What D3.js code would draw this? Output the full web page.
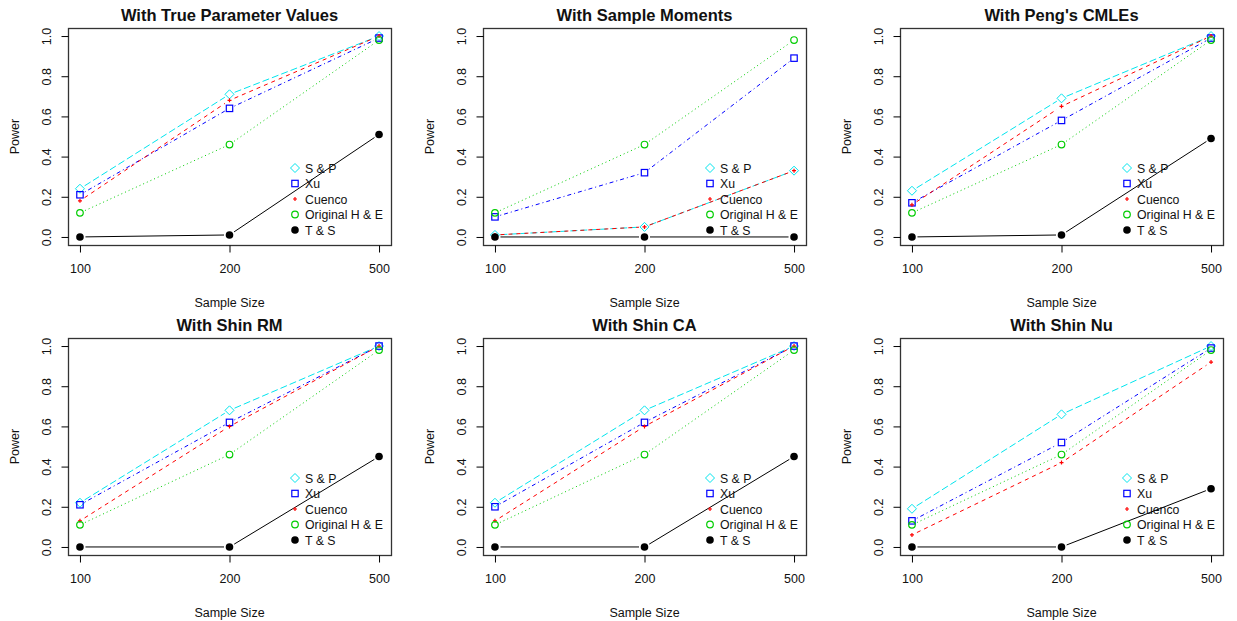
<!DOCTYPE html>
<html>
<head>
<meta charset="utf-8">
<script src="https://cdn.jsdelivr.net/npm/d3@7"></script>
<style>
  body { margin: 0; background: #fff; }
  text { font-family: "Liberation Sans", Arial, sans-serif; fill: #111; }
</style>
</head>
<body>
<div id="chart"></div>
<script>
const width = 1237, height = 621;

// sample sizes (categorical, equally spaced like R's 1:3 with custom labels)
var sampleSizes = ["100", "200", "500"];
var yTicks = [0, 0.2, 0.4, 0.6, 0.8, 1.0];

var seriesNames = ["S & P", "Xu", "Cuenco", "Original H & E", "T & S"];

var panelTitles = [
    "With True Parameter Values", "With Sample Moments", "With Peng's CMLEs",
    "With Shin RM", "With Shin CA", "With Shin Nu"
];

// power values, one array per series, one row per panel
var sp = [
    [0.24, 0.71, 1.00],
    [0.01, 0.05, 0.33],
    [0.23, 0.69, 1.00],
    [0.22, 0.68, 1.00],
    [0.22, 0.68, 1.00],
    [0.19, 0.66, 1.00]
];
var xu = [
    [0.21, 0.64, 0.99],
    [0.10, 0.32, 0.89],
    [0.17, 0.58, 0.99],
    [0.21, 0.62, 1.00],
    [0.20, 0.62, 1.00],
    [0.13, 0.52, 0.99]
];
var cuenco = [
    [0.18, 0.68, 1.00],
    [0.01, 0.05, 0.33],
    [0.16, 0.65, 1.00],
    [0.13, 0.60, 1.00],
    [0.13, 0.60, 1.00],
    [0.06, 0.42, 0.92]
];
var original = [
    [0.12, 0.46, 0.98],
    [0.12, 0.46, 0.98],
    [0.12, 0.46, 0.98],
    [0.11, 0.46, 0.98],
    [0.11, 0.46, 0.98],
    [0.11, 0.46, 0.98]
];
var ts = [
    [0.00, 0.01, 0.51],
    [0.00, 0.00, 0.00],
    [0.00, 0.01, 0.49],
    [0.00, 0.00, 0.45],
    [0.00, 0.00, 0.45],
    [0.00, 0.00, 0.29]
];

var seriesData = [sp, xu, cuenco, original, ts];
var colors = ["#00e5ee", "#0000ff", "#ff0000", "#00cd00", "#000000"];
var dashes = ["7,3", "1,3,4,3", "4,4", "1,3", null];
var symbols = ["diamond", "square", "plus", "circle", "dot"];

var boxLefts = [68, 483, 900], boxTops = [28, 338];
var boxW = 323, boxH = 217;

var svg = d3.select("#chart").append("svg")
    .attr("width", width)
    .attr("height", height);

function drawSymbol(g, type, x, y, color) {
    if (type == "diamond") {
        g.append("path")
            .attr("d", "M" + x + "," + (y - 4.5) + "L" + (x + 4.5) + "," + y + "L" + x + "," + (y + 4.5) + "L" + (x - 4.5) + "," + y + "Z")
            .attr("fill", "none").attr("stroke", color).attr("stroke-width", 1);
    } else if (type == "square") {
        g.append("rect")
            .attr("x", x - 3.2).attr("y", y - 3.2).attr("width", 6.4).attr("height", 6.4)
            .attr("fill", "none").attr("stroke", color).attr("stroke-width", 1.2);
    } else if (type == "plus") {
        g.append("path")
            .attr("d", "M" + (x - 2) + "," + y + "H" + (x + 2) + "M" + x + "," + (y - 2) + "V" + (y + 2))
            .attr("stroke", color).attr("stroke-width", 1.2);
    } else if (type == "circle") {
        g.append("circle").attr("cx", x).attr("cy", y).attr("r", 3.3)
            .attr("fill", "none").attr("stroke", color).attr("stroke-width", 1.2);
    } else {
        g.append("circle").attr("cx", x).attr("cy", y).attr("r", 3.8)
            .attr("fill", color);
    }
}

panelTitles.forEach(function (title, p) {
    var left = boxLefts[p % 3], top = boxTops[Math.floor(p / 3)];

    var x = d3.scaleLinear().domain([-0.08, 2.08]).range([left, left + boxW]);
    var y = d3.scaleLinear().domain([-0.04, 1.04]).range([top + boxH, top]);

    var g = svg.append("g").attr("class", "panel");

    // lines drawn like R type = "b" (gaps around the points)
    seriesData.forEach(function (s, k) {
        var vals = s[p];
        var gap = 5.5;
        for (var i = 0; i < vals.length - 1; i++) {
            var x0 = x(i), y0 = y(vals[i]), x1 = x(i + 1), y1 = y(vals[i + 1]);
            var len = Math.hypot(x1 - x0, y1 - y0);
            if (len <= 2 * gap) continue;
            var ux = (x1 - x0) / len, uy = (y1 - y0) / len;
            g.append("line")
                .attr("x1", x0 + ux * gap).attr("y1", y0 + uy * gap)
                .attr("x2", x1 - ux * gap).attr("y2", y1 - uy * gap)
                .attr("stroke", colors[k])
                .attr("stroke-width", 1)
                .attr("stroke-dasharray", dashes[k]);
        }
        vals.forEach(function (v, i) {
            drawSymbol(g, symbols[k], x(i), y(v), colors[k]);
        });
    });

    // box
    g.append("rect")
        .attr("x", left + 0.5).attr("y", top + 0.5)
        .attr("width", boxW).attr("height", boxH)
        .attr("fill", "none").attr("stroke", "#333").attr("stroke-width", 1.3);

    // axes
    var xAxis = d3.axisBottom(x).tickValues([0, 1, 2])
        .tickFormat(function (d) { return sampleSizes[d]; })
        .tickSize(7).tickPadding(12);
    var gx = g.append("g").attr("transform", "translate(0," + (top + boxH + 0.5) + ")").call(xAxis);
    gx.select(".domain").remove();
    gx.selectAll("text").attr("font-size", 12.5).attr("font-family", "Liberation Sans, Arial, sans-serif");

    var yAxis = d3.axisLeft(y).tickValues(yTicks).tickFormat(d3.format(".1f")).tickSize(7);
    var gy = g.append("g").attr("transform", "translate(" + (left + 0.5) + ",0)").call(yAxis);
    gy.select(".domain").remove();
    gy.selectAll(".tick text")
        .attr("x", null).attr("dy", null)
        .attr("text-anchor", "middle")
        .attr("transform", "translate(-18,0) rotate(-90)")
        .attr("font-size", 12.5)
        .attr("font-family", "Liberation Sans, Arial, sans-serif");

    // titles
    g.append("text")
        .attr("x", left + boxW / 2).attr("y", top - 7)
        .attr("text-anchor", "middle")
        .attr("font-size", 16.5).attr("font-weight", "bold")
        .text(title);
    g.append("text")
        .attr("x", left + boxW / 2).attr("y", top + boxH + 62)
        .attr("text-anchor", "middle")
        .attr("font-size", 12.5)
        .text("Sample Size");
    g.append("text")
        .attr("transform", "translate(" + (left - 49) + "," + (top + boxH / 2 + 0) + ") rotate(-90)")
        .attr("text-anchor", "middle")
        .attr("font-size", 12.5)
        .text("Power");

    // legend (no box, bottom right)
    var lg = g.append("g").attr("class", "legend");
    seriesNames.forEach(function (name, k) {
        var ly = top + 140 + k * 15.5;
        drawSymbol(lg, symbols[k], left + 227, ly, colors[k]);
        lg.append("text")
            .attr("x", left + 237).attr("y", ly + 4.5)
            .attr("font-size", 12.3)
            .text(name);
    });
});
</script>
</body>
</html>
